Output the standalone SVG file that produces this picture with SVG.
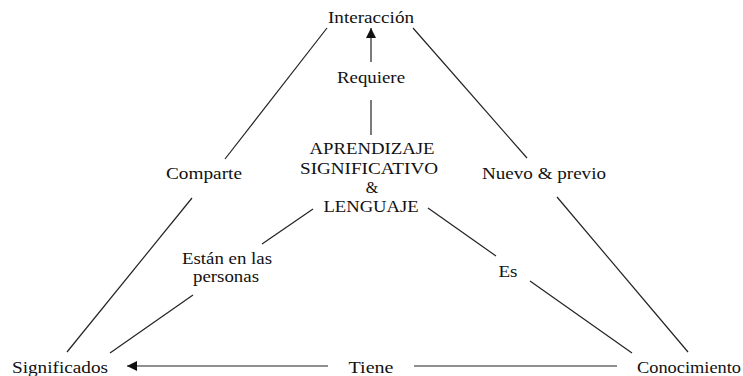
<svg xmlns="http://www.w3.org/2000/svg" width="743" height="376" viewBox="0 0 743 376">
<style>
text{font-family:"Liberation Serif","Times New Roman",serif;font-size:16px;fill:#111;text-anchor:middle}
.c line{stroke:#222;stroke-width:1.2;fill:none}
</style>
<defs>
<marker id="ah" viewBox="0 0 10 10" refX="10" refY="5" markerWidth="10" markerHeight="10" markerUnits="userSpaceOnUse" orient="auto">
<path d="M0,0 L10,5 L0,10 Z" fill="#111"/>
</marker>
</defs>
<rect width="743" height="376" fill="#fff"/>
<g class="c" id="connectors">
<line x1="327" y1="28" x2="225" y2="159"/>
<line x1="192" y1="198" x2="67" y2="352"/>
<line x1="413" y1="28" x2="527" y2="158"/>
<line x1="557" y1="197" x2="688" y2="352"/>
<line x1="371" y1="62" x2="371" y2="28" marker-end="url(#ah)"/>
<line x1="371" y1="100" x2="371" y2="135"/>
<line x1="313" y1="209" x2="262" y2="244"/>
<line x1="193" y1="295" x2="110" y2="353"/>
<line x1="428" y1="208" x2="496" y2="256"/>
<line x1="530" y1="281" x2="632" y2="353"/>
<line x1="328" y1="366" x2="127" y2="366" marker-end="url(#ah)"/>
<line x1="414" y1="366" x2="617" y2="366"/>
</g>
<g id="interaccion"><text x="371" y="23" textLength="86" lengthAdjust="spacingAndGlyphs">Interacción</text></g>
<g id="requiere"><text x="371" y="83" textLength="68" lengthAdjust="spacingAndGlyphs">Requiere</text></g>
<g id="comparte"><text x="204" y="179" textLength="76" lengthAdjust="spacingAndGlyphs">Comparte</text></g>
<g id="nuevo"><text x="544" y="179" textLength="124" lengthAdjust="spacingAndGlyphs">Nuevo &amp; previo</text></g>
<g id="centro">
<text x="372" y="154" textLength="125" lengthAdjust="spacingAndGlyphs">APRENDIZAJE</text>
<text x="369" y="174" textLength="138" lengthAdjust="spacingAndGlyphs">SIGNIFICATIVO</text>
<text x="372" y="193">&amp;</text>
<text x="371" y="212" textLength="95" lengthAdjust="spacingAndGlyphs">LENGUAJE</text>
</g>
<g id="estan">
<text x="227" y="264" textLength="90" lengthAdjust="spacingAndGlyphs">Están en las</text>
<text x="226" y="282" textLength="66" lengthAdjust="spacingAndGlyphs">personas</text>
</g>
<g id="es"><text x="508" y="277" textLength="19" lengthAdjust="spacingAndGlyphs">Es</text></g>
<g id="significados"><text x="60" y="373" textLength="96" lengthAdjust="spacingAndGlyphs">Significados</text></g>
<g id="tiene"><text x="371" y="373" textLength="45" lengthAdjust="spacingAndGlyphs">Tiene</text></g>
<g id="conocimiento"><text x="689" y="373" textLength="104" lengthAdjust="spacingAndGlyphs">Conocimiento</text></g>
</svg>
